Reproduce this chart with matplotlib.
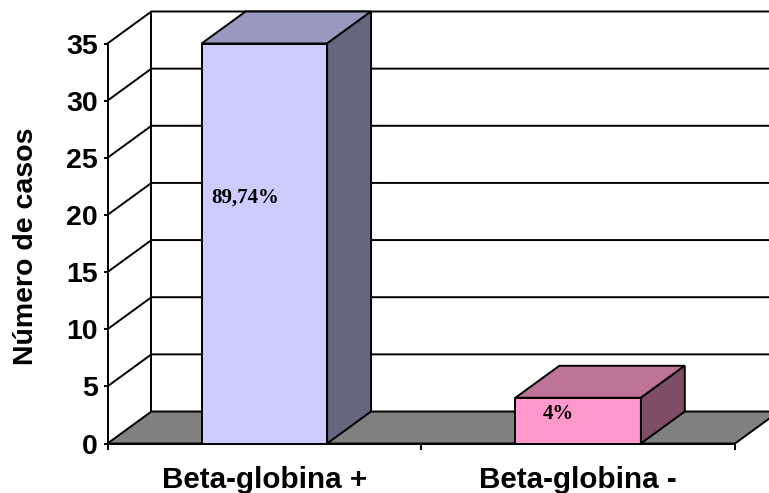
import matplotlib
matplotlib.use("Agg")
import matplotlib.pyplot as plt
from matplotlib.patches import Polygon

categories = ["Beta-globina +", "Beta-globina -"]
casos = [35, 4]
porcentajes = ["89,74%", "4%"]
y_ticks = [0, 5, 10, 15, 20, 25, 30, 35]

front_colors = ["#CCCCFF", "#FF99CC"]
top_colors = ["#9999C0", "#BF7399"]
side_colors = ["#666680", "#804D66"]

# 3D look: depth of the box in data units
dx = 0.14
dy = 2.8
bar_w = 0.4
lw = 1.4

W, H = 769, 493
fig = plt.figure(figsize=(W / 100, H / 100), dpi=100)
ax = fig.add_axes([107.5 / W, 1 - 443.5 / H, 627.5 / W, 400 / H])
ax.set_xlim(0, 2)
ax.set_ylim(0, 35)
ax.patch.set_visible(False)
for s in ["top", "right", "bottom"]:
    ax.spines[s].set_visible(False)
ax.spines["left"].set_linewidth(lw)


def box(x0, x1, y, front, top, side):
    quads = [
        ([(x0, 0), (x1, 0), (x1, y), (x0, y)], front),
        ([(x0, y), (x1, y), (x1 + dx, y + dy), (x0 + dx, y + dy)], top),
        ([(x1, 0), (x1 + dx, dy), (x1 + dx, y + dy), (x1, y)], side),
    ]
    for pts, color in quads:
        ax.add_patch(Polygon(pts, closed=True, facecolor=color, edgecolor="black",
                             linewidth=lw, joinstyle="miter", clip_on=False, zorder=4))


# floor
ax.add_patch(Polygon([(0, 0), (2, 0), (2 + dx, dy), (dx, dy)], closed=True, facecolor="#808080",
                     edgecolor="black", linewidth=lw, clip_on=False, zorder=2))

# walls and gridlines
ax.plot([dx, dx], [dy, 35 + dy], color="black", lw=lw, clip_on=False, zorder=1)
for t in y_ticks[1:]:
    ax.plot([0, dx, 2 + dx], [t, t + dy, t + dy], color="black", lw=lw, clip_on=False, zorder=1)

for i, v in enumerate(casos):
    box(i + 0.5 - bar_w / 2, i + 0.5 + bar_w / 2, v, front_colors[i], top_colors[i], side_colors[i])

ax.text(0.44, 21.5, porcentajes[0], ha="center", va="center", family="Liberation Serif",
        weight="bold", fontsize=15, zorder=5)
ax.text(1.437, 2.6, porcentajes[1], ha="center", va="center", family="Liberation Serif",
        weight="bold", fontsize=15, zorder=5)

ax.set_yticks(y_ticks)
ax.set_yticklabels([str(t) for t in y_ticks], family="Liberation Sans", weight="bold", fontsize=20.5)
ax.tick_params(axis="y", length=3, width=lw, pad=4)

# ticks between the categories, labels centred under them
ax.set_xticks([0, 1, 2])
ax.set_xticklabels([])
ax.tick_params(axis="x", length=4, width=lw, direction="out")
ax.set_xticks([0.5, 1.5], minor=True)
ax.set_xticklabels(categories, minor=True, family="Liberation Sans", weight="bold", fontsize=21.3)
ax.tick_params(axis="x", which="minor", length=0, pad=16)
ax.plot([0, 2], [0, 0], color="black", lw=lw, clip_on=False, zorder=5)

fig.text(26 / W, 1 - 246 / H, "Número de casos", rotation=90, ha="center", va="center",
         family="Liberation Sans", weight="bold", fontsize=20.5)

fig.savefig("out.png", dpi=100)
